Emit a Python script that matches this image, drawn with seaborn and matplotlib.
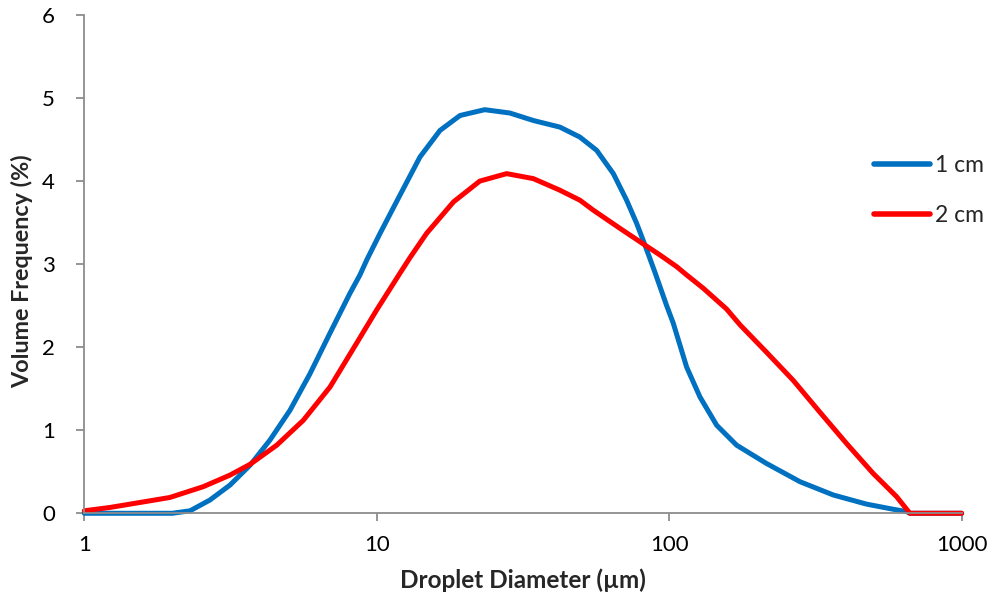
import numpy as np
import pandas as pd
import matplotlib
matplotlib.use("Agg")
import matplotlib.pyplot as plt
import seaborn as sns
from matplotlib.ticker import FixedLocator, FixedFormatter, NullLocator

# ---- data ----
d_1cm = [1.0, 1.5, 2.0, 2.3, 2.69, 3.15, 3.69, 4.31, 5.05, 5.91, 6.92, 8.10, 8.76, 9.24, 10.26,
         12.0, 14.05, 16.45, 19.26, 23.4, 28.5, 34.3, 42.3, 49.5, 56.5, 64.4, 71.5, 77.4, 82.6,
         89.4, 98.0, 103.2, 114.7, 127.4, 145.3, 170.0, 215.0, 280.0, 364.0, 473.0, 580.0,
         648.0, 665.0, 800.0, 1000.0]
v_1cm = [0.0, 0.0, 0.0, 0.03, 0.16, 0.34, 0.58, 0.88, 1.24, 1.68, 2.17, 2.65, 2.87, 3.05, 3.37,
         3.83, 4.29, 4.61, 4.79, 4.86, 4.82, 4.73, 4.65, 4.53, 4.37, 4.09, 3.77, 3.49, 3.23,
         2.90, 2.50, 2.29, 1.76, 1.40, 1.06, 0.82, 0.60, 0.38, 0.22, 0.11, 0.05,
         0.02, 0.0, 0.0, 0.0]

d_2cm = [1.0, 1.224, 1.49, 1.96, 2.55, 3.15, 3.69, 4.55, 5.61, 6.92, 8.54, 10.0, 12.0, 13.0,
         14.8, 18.3, 22.5, 27.8, 34.3, 42.3, 49.5, 55.0, 67.9, 82.6, 93.0, 106.0, 114.7, 130.7,
         157.0, 174.5, 215.0, 265.5, 327.0, 404.0, 498.0, 599.0, 665.0, 800.0, 1000.0]
v_2cm = [0.03, 0.07, 0.12, 0.19, 0.32, 0.46, 0.59, 0.82, 1.12, 1.52, 2.05, 2.45, 2.89, 3.08,
         3.37, 3.75, 4.00, 4.09, 4.03, 3.89, 3.77, 3.65, 3.43, 3.23, 3.11, 2.97, 2.87, 2.71,
         2.46, 2.27, 1.94, 1.60, 1.22, 0.84, 0.48, 0.20, 0.0, 0.0, 0.0]

series_names = ["1 cm", "2 cm"]
series_colors = ["#0070C0", "#FF0000"]
x_ticks = [1, 10, 100, 1000]
x_tick_labels = ["1", "10", "100", "1000"]
y_ticks = [0, 1, 2, 3, 4, 5, 6]
x_label = "Droplet Diameter (µm)"
y_label = "Volume Frequency (%)"

df = pd.concat([
    pd.DataFrame({"d": d_1cm, "v": v_1cm, "s": series_names[0]}),
    pd.DataFrame({"d": d_2cm, "v": v_2cm, "s": series_names[1]}),
], ignore_index=True)

sns.set_style("white")
plt.rcParams["font.family"] = ["Lato", "DejaVu Sans"]

fig = plt.figure(figsize=(9.94, 5.96), dpi=100)
ax = fig.add_axes([0.0848, 0.1388, 0.8827, 0.836])

sns.lineplot(data=df, x="d", y="v", hue="s", palette=dict(zip(series_names, series_colors)),
             linewidth=3.6, ax=ax, sort=False, legend=True)

ax.set_xscale("log")
ax.set_xlim(1, 1000)
ax.set_ylim(0, 6)
ax.xaxis.set_major_locator(FixedLocator(x_ticks))
ax.xaxis.set_major_formatter(FixedFormatter(x_tick_labels))
ax.xaxis.set_minor_locator(NullLocator())
ax.set_yticks(y_ticks)
ax.set_yticklabels([str(t) for t in y_ticks])

for side in ["top", "right"]:
    ax.spines[side].set_visible(False)
for side in ["left", "bottom"]:
    ax.spines[side].set_color("#8c8c8c")
    ax.spines[side].set_linewidth(1.3)

ax.tick_params(axis="both", which="major", direction="out", length=6, width=1.3,
               color="#8c8c8c", labelsize=16, labelcolor="black", bottom=True, left=True)
ax.tick_params(axis="x", pad=10)
ax.tick_params(axis="y", pad=15)

ax.set_xlabel(x_label, fontsize=17.5, fontweight="bold", labelpad=9)
ax.set_ylabel(y_label, fontsize=16.8, fontweight="bold")
ax.yaxis.set_label_coords(-0.058, 0.486)

leg = ax.legend(loc="upper left", bbox_to_anchor=(874 / 994, 1 - 155 / 596),
                bbox_transform=fig.transFigure, frameon=False,
                fontsize=16.5, handlelength=2.45, handletextpad=0.2, labelspacing=1.27,
                borderaxespad=0, borderpad=0)
for line in leg.get_lines():
    line.set_linewidth(4)
    line.set_solid_capstyle("round")

for line in ax.get_lines():
    line.set_solid_joinstyle("round")
    line.set_solid_capstyle("round")
    line.set_clip_on(False)

fig.savefig("out.png", dpi=100)
